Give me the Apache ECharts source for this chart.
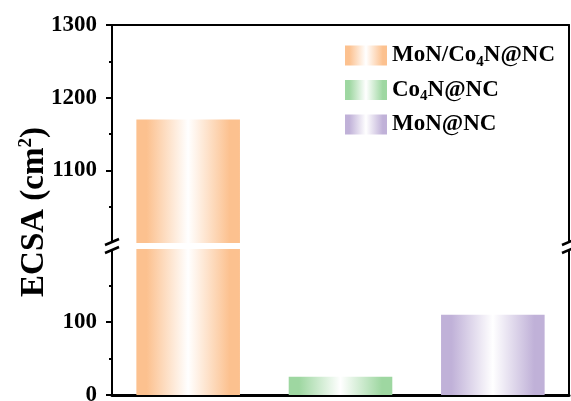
<!DOCTYPE html>
<html>
<head>
<meta charset="utf-8">
<script src="https://cdn.jsdelivr.net/npm/echarts@6/dist/echarts.min.js"></script>
<style>html,body{margin:0;padding:0;background:#fff;}#c{width:571px;height:401px;}</style>
</head>
<body>
<div id="c"></div>
<script>
var categories = ['MoN/Co4N@NC', 'Co4N@NC', 'MoN@NC'];
var values = [1170, 25, 110];
var barColors = ['#FCC18F', '#9ED7A1', '#C0B1D8'];
var upperTicks = [1100, 1200, 1300];
var lowerTicks = [0, 100];

var FONT = '"Liberation Serif", "Times New Roman", serif';

function grad(c) {
  return new echarts.graphic.LinearGradient(0, 0, 1, 0, [
    {offset: 0, color: c},
    {offset: 0.1, color: c},
    {offset: 0.5, color: '#ffffff'},
    {offset: 0.9, color: c},
    {offset: 1, color: c}
  ]);
}
function subFmt(name) {
  return name.split(/(\d)/).filter(function(p){return p !== '';}).map(function (p) {
    return /^\d$/.test(p) ? '{s|' + p + '}' : '{n|' + p + '}';
  }).join('');
}

var chart = echarts.init(document.getElementById('c'), null, {renderer: 'canvas'});

var series = [];
categories.forEach(function (name, i) {
  [0, 1].forEach(function (g) {
    series.push({
      name: name,
      type: 'bar',
      xAxisIndex: g,
      yAxisIndex: g === 0 ? 0 : 2,
      barWidth: '68%',
      barGap: '-100%',
      clip: true,
      data: values.map(function (v, j) { return j === i ? v : '-'; }),
      itemStyle: {color: grad(barColors[i])},
      emphasis: {disabled: true}
    });
  });
});

var axisLineStyle = {color: '#000', width: 2};
var labelStyle = {fontFamily: FONT, fontWeight: 'bold', fontSize: 23, color: '#000', margin: 15,
  formatter: function (v) { return String(v); }};

var option = {
  animation: false,
  grid: [
    {left: 112, right: 2, top: 25, height: 218, outerBoundsMode: 'none', containLabel: false},
    {left: 112, right: 2, top: 249, height: 146, outerBoundsMode: 'none', containLabel: false}
  ],
  legend: {
    data: categories,
    orient: 'vertical',
    left: 345,
    top: 44,
    padding: 0,
    itemWidth: 42,
    itemHeight: 20,
    itemGap: 9,
    icon: 'rect',
    formatter: subFmt,
    textStyle: {
      fontFamily: FONT, fontWeight: 'bold', fontSize: 23, color: '#000',
      rich: {
        n: {fontFamily: FONT, fontWeight: 'bold', fontSize: 23, lineHeight: 28, color: '#000'},
        s: {fontFamily: FONT, fontWeight: 'bold', fontSize: 15, color: '#000', padding: [13, 0, 0, 0]}
      }
    }
  },
  xAxis: [
    {gridIndex: 0, type: 'category', data: categories, position: 'top',
     axisLine: {show: true, lineStyle: axisLineStyle}, axisTick: {show: false}, axisLabel: {show: false}, splitLine: {show: false}},
    {gridIndex: 1, type: 'category', data: categories, position: 'bottom',
     axisLine: {show: true, lineStyle: {color: '#000', width: 3}}, axisTick: {show: false}, axisLabel: {show: false}, splitLine: {show: false}}
  ],
  yAxis: [
    {gridIndex: 0, type: 'value', min: 1000, max: 1300, interval: 100,
     axisLine: {show: true, lineStyle: axisLineStyle},
     axisTick: {show: true, length: 6, lineStyle: {width: 2, color: '#000'}, customValues: upperTicks},
     minorTick: {show: true, splitNumber: 2, length: 3, lineStyle: {width: 2, color: '#000'}},
     axisLabel: Object.assign({customValues: upperTicks}, labelStyle),
     splitLine: {show: false}},
    {gridIndex: 0, type: 'value', position: 'right', min: 1000, max: 1300,
     axisLine: {show: true, lineStyle: axisLineStyle}, axisTick: {show: false}, axisLabel: {show: false}, splitLine: {show: false}},
    {gridIndex: 1, type: 'value', min: 0, max: 200, interval: 100,
     axisLine: {show: true, lineStyle: axisLineStyle},
     axisTick: {show: true, length: 6, lineStyle: {width: 2, color: '#000'}, customValues: lowerTicks},
     minorTick: {show: true, splitNumber: 2, length: 3, lineStyle: {width: 2, color: '#000'}},
     axisLabel: Object.assign({customValues: lowerTicks}, labelStyle),
     splitLine: {show: false}},
    {gridIndex: 1, type: 'value', position: 'right', min: 0, max: 200,
     axisLine: {show: true, lineStyle: axisLineStyle}, axisTick: {show: false}, axisLabel: {show: false}, splitLine: {show: false}}
  ],
  series: series
};
chart.setOption(option);

// axis-break marks and y-axis title
var yUpperBottom = chart.convertToPixel({yAxisIndex: 0}, 1000);
var yLowerTop = chart.convertToPixel({yAxisIndex: 2}, 200);
var rect = chart.getModel().getComponent('grid', 0).coordinateSystem.getRect();
var midY = (yUpperBottom + yLowerTop) / 2;
function breakMark(x) {
  return [
    {type: 'rect', shape: {x: x - 8, y: midY - 3, width: 16, height: 6}, style: {fill: '#fff'}, z: 100},
    {type: 'line', shape: {x1: x - 7, y1: midY - 1, x2: x + 7, y2: midY - 7}, style: {stroke: '#000', lineWidth: 2.5}, z: 101},
    {type: 'line', shape: {x1: x - 7, y1: midY + 7, x2: x + 7, y2: midY + 1}, style: {stroke: '#000', lineWidth: 2.5}, z: 101}
  ];
}
var graphics = [].concat(breakMark(rect.x), breakMark(rect.x + rect.width));
graphics.push({
  type: 'text',
  x: 34, y: 212,
  rotation: Math.PI / 2,
  style: {
    text: '{a|ECSA (cm}{b|2}{a|)}',
    align: 'center', verticalAlign: 'middle',
    rich: {
      a: {fontFamily: FONT, fontWeight: 'bold', fontSize: 33, fill: '#000'},
      b: {fontFamily: FONT, fontWeight: 'bold', fontSize: 19, fill: '#000', padding: [0, 0, 15, 0]}
    }
  },
  z: 100
});
chart.setOption({graphic: graphics});
</script>
</body>
</html>
